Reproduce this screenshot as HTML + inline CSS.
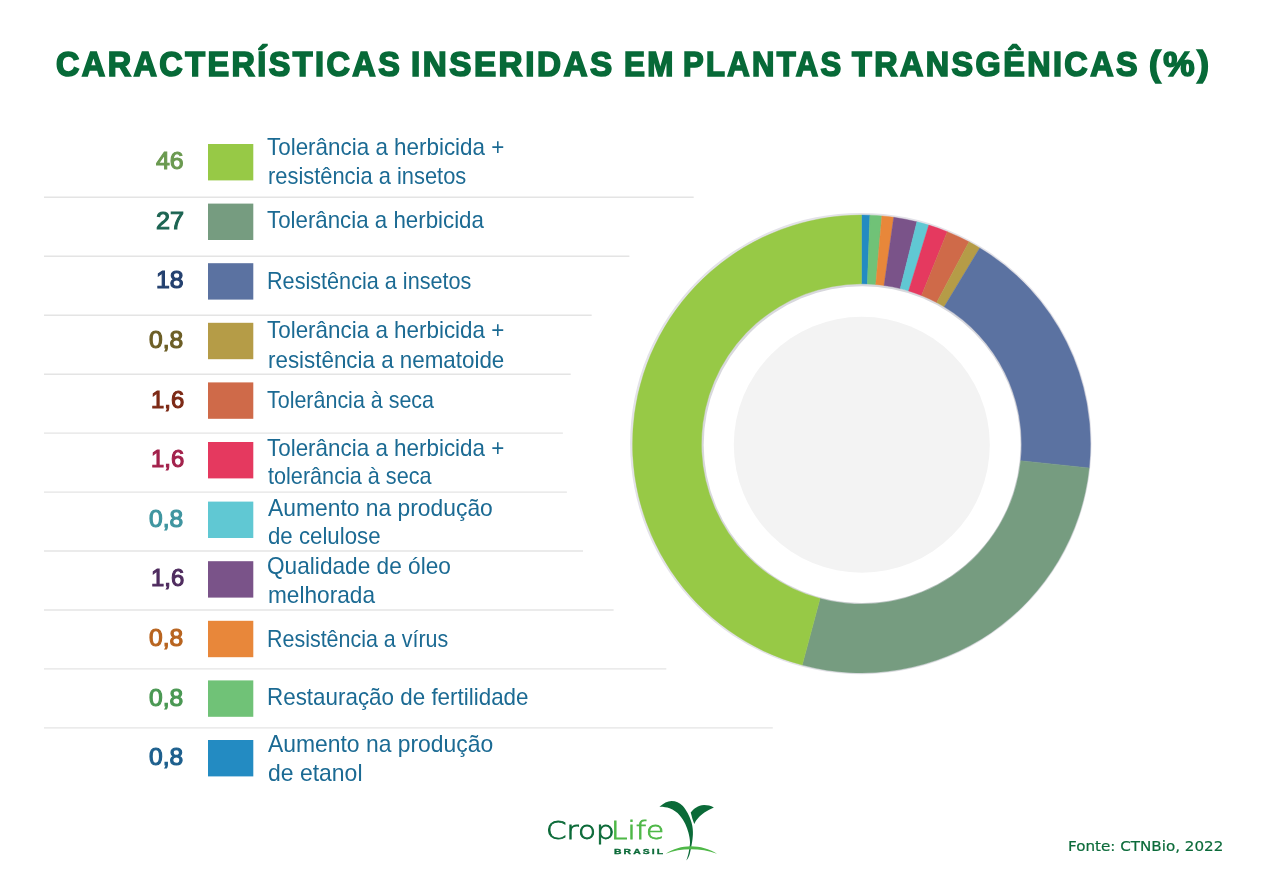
<!DOCTYPE html>
<html lang="pt-BR"><head><meta charset="utf-8"><title>Características inseridas em plantas transgênicas (%)</title>
<style>
html,body{margin:0;padding:0;background:#fff;}
body{width:1264px;height:893px;position:relative;overflow:hidden;font-family:"Liberation Sans", sans-serif;}
.t{position:absolute;white-space:nowrap;line-height:1;transform-origin:0 0;display:block;}
svg{position:absolute;left:0;top:0;}
h1,ul,li,p{margin:0;padding:0;list-style:none;font:inherit;}
svg line{stroke:#e4e4e4;stroke-width:1.4;}
</style></head><body>
<svg width="1264" height="893" viewBox="0 0 1264 893">
<line x1="44" x2="693.7" y1="197.3" y2="197.3"/><line x1="44" x2="629.4" y1="256.2" y2="256.2"/><line x1="44" x2="591.7" y1="315.2" y2="315.2"/><line x1="44" x2="570.7" y1="374.2" y2="374.2"/><line x1="44" x2="562.9" y1="433.1" y2="433.1"/><line x1="44" x2="566.9" y1="492.1" y2="492.1"/><line x1="44" x2="583.0" y1="551.0" y2="551.0"/><line x1="44" x2="613.6" y1="610.0" y2="610.0"/><line x1="44" x2="666.3" y1="668.9" y2="668.9"/><line x1="44" x2="772.8" y1="727.9" y2="727.9"/>
<circle cx="860.8" cy="443.6" r="230.7" fill="#e3e2e8"/>
<circle cx="861.5" cy="443.95" r="162.1" fill="#d8d8dd"/>
<circle cx="862.1" cy="444.7" r="158.4" fill="#fff"/>
<path fill="#238bc2" stroke="#238bc2" stroke-width="0.4" d="M861.50 215.00A228.95 228.95 0 0 1 869.89 215.15L867.37 283.96A160.1 160.1 0 0 0 861.50 283.85Z"/><path fill="#70c277" stroke="#70c277" stroke-width="0.4" d="M869.89 215.15A228.95 228.95 0 0 1 881.85 215.91L875.73 284.48A160.1 160.1 0 0 0 867.37 283.96Z"/><path fill="#e8873a" stroke="#e8873a" stroke-width="0.4" d="M881.85 215.91A228.95 228.95 0 0 1 893.76 217.28L884.06 285.45A160.1 160.1 0 0 0 875.73 284.48Z"/><path fill="#7a5389" stroke="#7a5389" stroke-width="0.4" d="M893.76 217.28A228.95 228.95 0 0 1 916.89 221.80L900.23 288.61A160.1 160.1 0 0 0 884.06 285.45Z"/><path fill="#60c8d3" stroke="#60c8d3" stroke-width="0.4" d="M916.89 221.80A228.95 228.95 0 0 1 928.82 225.12L908.58 290.93A160.1 160.1 0 0 0 900.23 288.61Z"/><path fill="#e5395f" stroke="#e5395f" stroke-width="0.4" d="M928.82 225.12A228.95 228.95 0 0 1 947.27 231.67L921.47 295.51A160.1 160.1 0 0 0 908.58 290.93Z"/><path fill="#cf6a49" stroke="#cf6a49" stroke-width="0.4" d="M947.27 231.67A228.95 228.95 0 0 1 968.99 241.80L936.66 302.59A160.1 160.1 0 0 0 921.47 295.51Z"/><path fill="#b59c47" stroke="#b59c47" stroke-width="0.4" d="M968.99 241.80A228.95 228.95 0 0 1 979.76 247.91L944.20 306.86A160.1 160.1 0 0 0 936.66 302.59Z"/><path fill="#5b72a1" stroke="#5b72a1" stroke-width="0.4" d="M979.76 247.91A228.95 228.95 0 0 1 1089.20 467.88L1020.72 460.69A160.1 160.1 0 0 0 944.20 306.86Z"/><path fill="#769c80" stroke="#769c80" stroke-width="0.4" d="M1089.20 467.88A228.95 228.95 0 0 1 802.24 665.10L820.06 598.59A160.1 160.1 0 0 0 1020.72 460.69Z"/><path fill="#97c946" stroke="#97c946" stroke-width="0.4" d="M802.24 665.10A228.95 228.95 0 0 1 861.50 215.00L861.50 283.85A160.1 160.1 0 0 0 820.06 598.59Z"/>
<circle cx="861.8" cy="444.8" r="128.0" fill="#f3f3f3"/>
<path fill="#0b6a38" d="M659.4 806.8C663.5 803 667.5 800.9 671.5 800.9C676 800.9 679.5 802.6 682.6 805.8C686 809.5 689.6 816 691.5 822.4C692.8 827 693.1 831 692.9 834.5C692.7 838 692.3 841 691.8 843.8C691.2 847.2 690.6 850 690 853C689.2 856 688 858.5 686.3 860.5C687.6 857.3 688.5 854 689.1 850C689.8 845.5 690.1 843.5 690 842C689.8 838.6 689.3 836 688.4 832.6C687.6 829.7 686.6 827 685.3 824C683.8 820.6 682 818 679.8 815.4C677 812.2 673.5 809.8 669.6 808.3C666.3 807.2 663 806.7 659.4 806.8Z"/>
<path fill="#0b6a38" d="M713.9 807.4C710.6 805.8 707.6 805 704.1 805C701 805.1 698.4 806 696.2 807.5C694 808.9 692.1 810.6 690.7 812.6C691.3 814.6 691.8 816.5 692.3 818.5C692.9 820.5 693.6 822.3 694.3 824C695.2 821.9 696.3 820 697.8 818.5C699.7 816.2 702 814.1 704.8 812.2C707.6 810.3 710.6 808.7 713.9 807.4Z"/>
<path fill="#4fb848" d="M665.7 853.8C673 849 682 846.3 690.7 846.3C700 846.3 709.5 849 717 853.8C708.5 850.6 700 849.2 690.7 849.2C682 849.2 673.5 850.6 665.7 853.8Z"/>
<rect x="208" y="144.0" width="45.3" height="36.4" fill="#97c946"/>
<rect x="208" y="203.6" width="45.3" height="36.4" fill="#769c80"/>
<rect x="208" y="263.2" width="45.3" height="36.4" fill="#5b72a1"/>
<rect x="208" y="322.8" width="45.3" height="36.4" fill="#b59c47"/>
<rect x="208" y="382.4" width="45.3" height="36.4" fill="#cf6a49"/>
<rect x="208" y="442.0" width="45.3" height="36.4" fill="#e5395f"/>
<rect x="208" y="501.6" width="45.3" height="36.4" fill="#60c8d3"/>
<rect x="208" y="561.2" width="45.3" height="36.4" fill="#7a5389"/>
<rect x="208" y="620.8" width="45.3" height="36.4" fill="#e8873a"/>
<rect x="208" y="680.4" width="45.3" height="36.4" fill="#70c277"/>
<rect x="208" y="740.0" width="45.3" height="36.4" fill="#238bc2"/>
</svg>
<h1><span class="t title" style="left:56.38px;top:47.01px;font-size:34.6px;font-weight:700;color:#076a38;transform:scaleX(0.9372);-webkit-text-stroke:1.7px #076a38;letter-spacing:2.6px;">CARACTERÍSTICAS</span>
<span class="t title" style="left:411.34px;top:47.01px;font-size:34.6px;font-weight:700;color:#076a38;transform:scaleX(0.9618);-webkit-text-stroke:1.7px #076a38;letter-spacing:2.6px;">INSERIDAS</span>
<span class="t title" style="left:623.91px;top:47.01px;font-size:34.6px;font-weight:700;color:#076a38;transform:scaleX(0.9072);-webkit-text-stroke:1.7px #076a38;letter-spacing:2.6px;">EM</span>
<span class="t title" style="left:683.32px;top:47.01px;font-size:34.6px;font-weight:700;color:#076a38;transform:scaleX(0.8975);-webkit-text-stroke:1.7px #076a38;letter-spacing:2.6px;">PLANTAS</span>
<span class="t title" style="left:852.00px;top:47.01px;font-size:34.6px;font-weight:700;color:#076a38;transform:scaleX(0.9353);-webkit-text-stroke:1.7px #076a38;letter-spacing:2.6px;">TRANSGÊNICAS</span>
<span class="t title" style="left:1149.21px;top:47.01px;font-size:34.6px;font-weight:700;color:#076a38;transform:scaleX(1.0184);-webkit-text-stroke:1.7px #076a38;letter-spacing:2.6px;">(%)</span></h1>
<ul>
<li><span class="t num" style="left:156.08px;top:149.01px;font-size:24.2px;font-weight:400;color:#6b9a50;transform:scaleX(1.0278);-webkit-text-stroke:1.1px #6b9a50;">46</span>
<span class="t lab" style="left:267.15px;top:136.00px;font-size:23.2px;font-weight:400;color:#1b6a93;transform:scaleX(0.9666);">Tolerância a herbicida +</span>
<span class="t lab" style="left:267.63px;top:165.00px;font-size:23.2px;font-weight:400;color:#1b6a93;transform:scaleX(0.9437);">resistência a insetos</span></li>
<li><span class="t num" style="left:155.69px;top:209.01px;font-size:24.2px;font-weight:400;color:#1c6452;transform:scaleX(1.0424);-webkit-text-stroke:1.1px #1c6452;">27</span>
<span class="t lab" style="left:267.15px;top:209.00px;font-size:23.2px;font-weight:400;color:#1b6a93;transform:scaleX(0.9615);">Tolerância a herbicida</span></li>
<li><span class="t num" style="left:156.11px;top:268.01px;font-size:24.2px;font-weight:400;color:#23406f;transform:scaleX(1.0265);-webkit-text-stroke:1.1px #23406f;">18</span>
<span class="t lab" style="left:267.01px;top:270.00px;font-size:23.2px;font-weight:400;color:#1b6a93;transform:scaleX(0.9327);">Resistência a insetos</span></li>
<li><span class="t num" style="left:149.49px;top:328.01px;font-size:24.2px;font-weight:400;color:#6c5e25;transform:scaleX(1.0180);-webkit-text-stroke:1.1px #6c5e25;">0,8</span>
<span class="t lab" style="left:267.15px;top:319.00px;font-size:23.2px;font-weight:400;color:#1b6a93;transform:scaleX(0.9666);">Tolerância a herbicida +</span>
<span class="t lab" style="left:267.60px;top:349.00px;font-size:23.2px;font-weight:400;color:#1b6a93;transform:scaleX(0.9648);">resistência a nematoide</span></li>
<li><span class="t num" style="left:150.55px;top:388.01px;font-size:24.2px;font-weight:400;color:#7d2a16;transform:scaleX(0.9861);-webkit-text-stroke:1.1px #7d2a16;">1,6</span>
<span class="t lab" style="left:267.16px;top:389.00px;font-size:23.2px;font-weight:400;color:#1b6a93;transform:scaleX(0.9255);">Tolerância à seca</span></li>
<li><span class="t num" style="left:150.55px;top:447.01px;font-size:24.2px;font-weight:400;color:#a3224c;transform:scaleX(0.9861);-webkit-text-stroke:1.1px #a3224c;">1,6</span>
<span class="t lab" style="left:267.15px;top:437.00px;font-size:23.2px;font-weight:400;color:#1b6a93;transform:scaleX(0.9666);">Tolerância a herbicida +</span>
<span class="t lab" style="left:268.00px;top:465.00px;font-size:23.2px;font-weight:400;color:#1b6a93;transform:scaleX(0.9331);">tolerância à seca</span></li>
<li><span class="t num" style="left:149.49px;top:507.01px;font-size:24.2px;font-weight:400;color:#3f95a0;transform:scaleX(1.0180);-webkit-text-stroke:1.1px #3f95a0;">0,8</span>
<span class="t lab" style="left:268.40px;top:497.00px;font-size:23.2px;font-weight:400;color:#1b6a93;transform:scaleX(0.9852);">Aumento na produção</span>
<span class="t lab" style="left:267.60px;top:525.00px;font-size:23.2px;font-weight:400;color:#1b6a93;transform:scaleX(0.9593);">de celulose</span></li>
<li><span class="t num" style="left:150.55px;top:566.01px;font-size:24.2px;font-weight:400;color:#4f2c5f;transform:scaleX(0.9861);-webkit-text-stroke:1.1px #4f2c5f;">1,6</span>
<span class="t lab" style="left:267.24px;top:555.00px;font-size:23.2px;font-weight:400;color:#1b6a93;transform:scaleX(0.9769);">Qualidade de óleo</span>
<span class="t lab" style="left:267.58px;top:584.00px;font-size:23.2px;font-weight:400;color:#1b6a93;transform:scaleX(0.9767);">melhorada</span></li>
<li><span class="t num" style="left:149.49px;top:626.01px;font-size:24.2px;font-weight:400;color:#b8641f;transform:scaleX(1.0180);-webkit-text-stroke:1.1px #b8641f;">0,8</span>
<span class="t lab" style="left:267.02px;top:628.00px;font-size:23.2px;font-weight:400;color:#1b6a93;transform:scaleX(0.9253);">Resistência a vírus</span></li>
<li><span class="t num" style="left:149.49px;top:686.01px;font-size:24.2px;font-weight:400;color:#4a9853;transform:scaleX(1.0180);-webkit-text-stroke:1.1px #4a9853;">0,8</span>
<span class="t lab" style="left:266.95px;top:686.00px;font-size:23.2px;font-weight:400;color:#1b6a93;transform:scaleX(0.9661);">Restauração de fertilidade</span></li>
<li><span class="t num" style="left:149.49px;top:745.01px;font-size:24.2px;font-weight:400;color:#1d5f8d;transform:scaleX(1.0180);-webkit-text-stroke:1.1px #1d5f8d;">0,8</span>
<span class="t lab" style="left:268.40px;top:733.00px;font-size:23.2px;font-weight:400;color:#1b6a93;transform:scaleX(0.9870);">Aumento na produção</span>
<span class="t lab" style="left:267.58px;top:762.00px;font-size:23.2px;font-weight:400;color:#1b6a93;transform:scaleX(0.9903);">de etanol</span></li>
</ul>
<div><span class="t logo" style="left:545.87px;top:818.01px;font-size:25.0px;font-weight:200;color:#0b6a38;transform:scaleX(1.1771);-webkit-text-stroke:0.8px #0b6a38;font-family:'DejaVu Sans',sans-serif;">Crop</span><span class="t logo" style="left:611.24px;top:818.01px;font-size:25.0px;font-weight:200;color:#4fb848;transform:scaleX(1.1808);-webkit-text-stroke:0.8px #4fb848;font-family:'DejaVu Sans',sans-serif;">Life</span>
<span class="t brasil" style="left:613.92px;top:848.01px;font-size:7.6px;font-weight:700;color:#0b6a38;transform:scaleX(1.3702);-webkit-text-stroke:0.3px #0b6a38;letter-spacing:1.5px;">BRASIL</span></div>
<p><span class="t src" style="left:1067.69px;top:839.01px;font-size:14.5px;font-weight:400;color:#0c6b3a;transform:scaleX(1.0436);-webkit-text-stroke:0.2px #0c6b3a;font-family:'DejaVu Sans',sans-serif;">Fonte: CTNBio, 2022</span></p>
</body></html>
